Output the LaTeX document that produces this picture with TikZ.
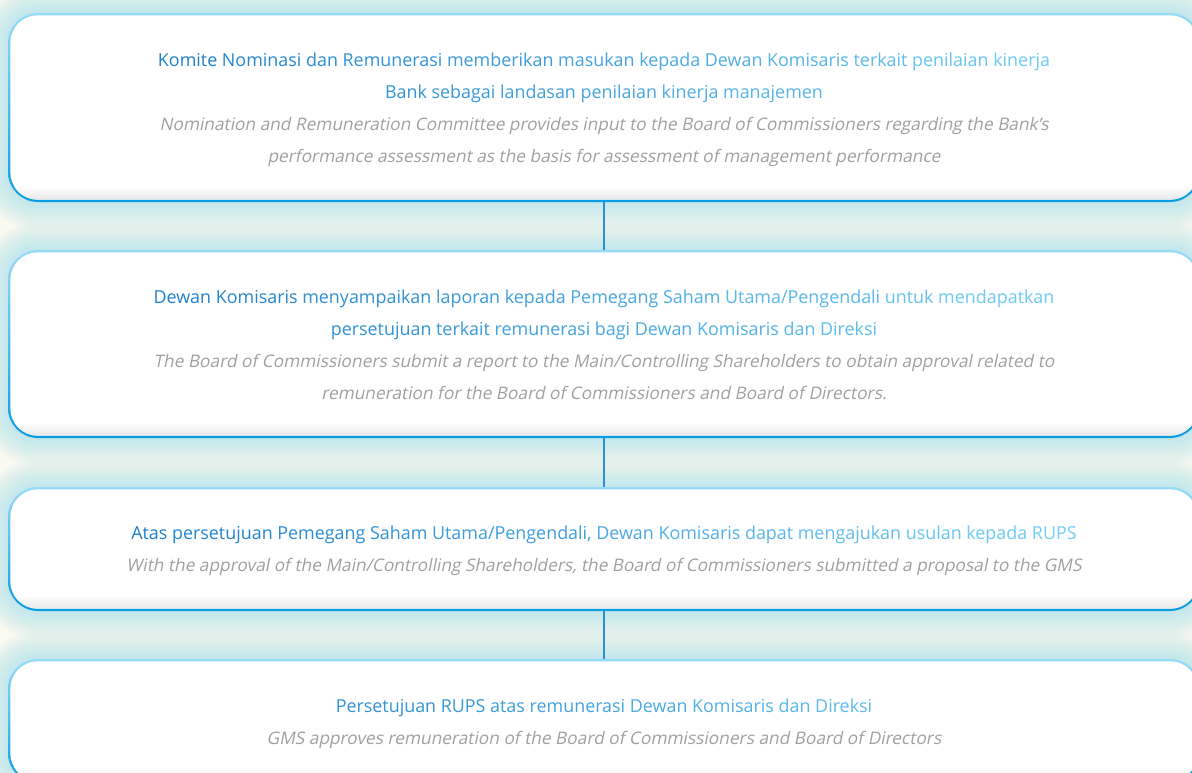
\documentclass[tikz,border=0pt]{standalone}
\usepackage{fontspec}
\setmainfont{Open Sans}
\newfontfamily\slantfont[FakeSlant=0.2]{Open Sans}
\usetikzlibrary{calc}

\definecolor{bgcream}{HTML}{FAFAF1}
\definecolor{glow}{HTML}{A6E0EC}
\definecolor{bordlight}{HTML}{94DBF8}
\definecolor{borddark}{HTML}{0A9DE0}
\definecolor{gDark}{HTML}{1C7ECC}
\definecolor{gLight}{HTML}{72CFF6}
\definecolor{engray}{HTML}{A0A0A0}
\definecolor{linkblue}{HTML}{2B8FD8}

\pgfdeclarelayer{bg}
\pgfsetlayers{bg,main}

% word coloured along the blue gradient (0 = dark, 100 = light)
\newcommand\gw[2]{\textcolor{gLight!#1!gDark}{#2}}

% soft cyan halo around a stage
\newcommand\haloaround[1]{%
  \foreach \i in {1,...,14}{%
    \fill[glow, fill opacity=0.06, rounded corners={30pt+\i*2pt}]
      ($(#1.north west)+(-\i*2pt,\i*2pt)$) rectangle ($(#1.south east)+(\i*2pt,-\i*2pt)$);
  }%
}

% white inside of a stage, with a faint shade along its lower edge
\newcommand\stagebody[1]{%
  \fill[white, rounded corners=27.5pt]
    ($(#1.north west)+(2.5pt,-2.5pt)$) rectangle ($(#1.south east)+(-2.5pt,2.5pt)$);
  \begin{scope}
    \clip[rounded corners=27.5pt]
      ($(#1.north west)+(2.5pt,-2.5pt)$) rectangle ($(#1.south east)+(-2.5pt,2.5pt)$);
    \shade[top color=white, bottom color=black!9]
      ($(#1.south west)+(0,16pt)$) rectangle ($(#1.south east)+(0,2.5pt)$);
  \end{scope}
}

\tikzset{
  stage/.style={shape=rectangle, rounded corners=30pt, minimum width=1192pt,
    inner sep=0pt, top color=bordlight, bottom color=borddark, draw=none},
  idline/.style={anchor=base, inner sep=0pt, text=gDark,
    font=\fontsize{17.9}{22}\selectfont},
  enline/.style={anchor=base, inner sep=0pt, text=engray,
    font=\fontsize{17.3}{22}\slantfont},
  link/.style={draw=linkblue, line width=2.2pt},
}

\begin{document}
\begin{tikzpicture}[x=1pt, y=-1pt]
  \useasboundingbox (0,0) rectangle (1192,773);
  \clip (0,0) rectangle (1192,773);

  % stages
  \node[stage, minimum height=189pt] (b1) at (604,107.5) {};
  \node[stage, minimum height=188pt] (b2) at (604,344) {};
  \node[stage, minimum height=124pt] (b3) at (604,549) {};
  \node[stage, minimum height=124pt] (b4) at (604,721) {};

  \begin{pgfonlayer}{bg}
    \fill[bgcream] (0,0) rectangle (1192,773);
    \haloaround{b1}
    \haloaround{b2}
    \haloaround{b3}
    \haloaround{b4}
  \end{pgfonlayer}

  \stagebody{b1}
  \stagebody{b2}
  \stagebody{b3}
  \stagebody{b4}

  % links between stages
  \draw[link] (b1.south) -- (b2.north);
  \draw[link] (b2.south) -- (b3.north);
  \draw[link] (b3.south) -- (b4.north);

  % stage 1
  \node[idline] (t1a) at (604,67) {\gw{4}{Komite} \gw{12}{Nominasi} \gw{19}{dan} \gw{26}{Remunerasi} \gw{37}{memberikan} \gw{46}{masukan} \gw{54}{kepada} \gw{60}{Dewan} \gw{68}{Komisaris} \gw{77}{terkait} \gw{86}{penilaian} \gw{95}{kinerja}};
  \node[idline] (t1b) at (604,99) {\gw{28}{Bank} \gw{34}{sebagai} \gw{42}{landasan} \gw{51}{penilaian} \gw{60}{kinerja} \gw{69}{manajemen}};
  \node[enline] (t1c) at (604,131) {Nomination and Remuneration Committee provides input to the Board of Commissioners regarding the Bank’s};
  \node[enline] (t1d) at (604,163) {performance assessment as the basis for assessment of management performance};

  % stage 2
  \node[idline] (t2a) at (604,303) {\gw{3}{Dewan} \gw{11}{Komisaris} \gw{24}{menyampaikan} \gw{35}{laporan} \gw{43}{kepada} \gw{52}{Pemegang} \gw{60}{Saham} \gw{72}{Utama/Pengendali} \gw{84}{untuk} \gw{94}{mendapatkan}};
  \node[idline] (t2b) at (604,335) {\gw{25}{persetujuan} \gw{35}{terkait} \gw{44}{remunerasi} \gw{51}{bagi} \gw{57}{Dewan} \gw{64}{Komisaris} \gw{71}{dan} \gw{77}{Direksi}};
  \node[enline] (t2c) at (604,367) {The Board of Commissioners submit a report to the Main/Controlling Shareholders to obtain approval related to};
  \node[enline] (t2d) at (604,399) {remuneration for the Board of Commissioners and Board of Directors.};

  % stage 3
  \node[idline] (t3a) at (604,539) {\gw{0}{Atas} \gw{8}{persetujuan} \gw{19}{Pemegang} \gw{27}{Saham} \gw{40}{Utama/Pengendali,} \gw{52}{Dewan} \gw{60}{Komisaris} \gw{69}{dapat} \gw{78}{mengajukan} \gw{87}{usulan} \gw{94}{kepada} \gw{100}{RUPS}};
  \node[enline] (t3b) at (604,571) {With the approval of the Main/Controlling Shareholders, the Board of Commissioners submitted a proposal to the GMS};

  % stage 4
  \node[idline] (t4a) at (604,712) {\gw{26}{Persetujuan} \gw{34}{RUPS} \gw{39}{atas} \gw{47}{remunerasi} \gw{55}{Dewan} \gw{63}{Komisaris} \gw{70}{dan} \gw{76}{Direksi}};
  \node[enline] (t4b) at (604,744) {GMS approves remuneration of the Board of Commissioners and Board of Directors};
\end{tikzpicture}
\end{document}
